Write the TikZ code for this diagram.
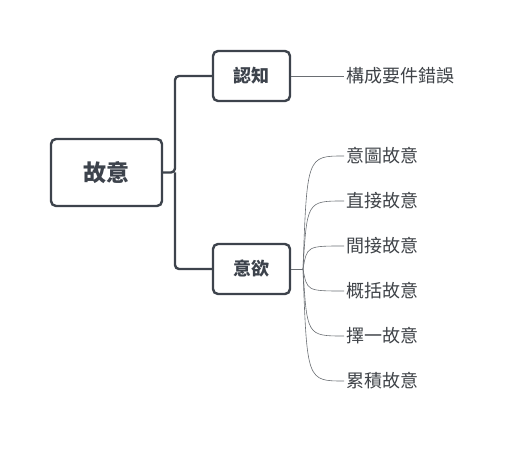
\documentclass[tikz,border=0pt]{standalone}
\usepackage{fontspec}
\setmainfont{Noto Sans CJK TC}
\usetikzlibrary{calc}
\definecolor{boxline}{HTML}{3D434C}
\definecolor{leafline}{HTML}{6A6E73}
\definecolor{leaftext}{HTML}{3F4348}
\tikzset{
  topicbox/.style={draw=boxline, line width=2.4pt, rounded corners=5pt, align=center, text=boxline, font=\bfseries\fontsize{18}{21}\selectfont},
  rootbox/.style={topicbox, font=\bfseries\fontsize{23}{27}\selectfont},
  leaf/.style={anchor=west, inner sep=2pt, text=leaftext, font=\fontsize{18}{21}\selectfont},
  branch/.style={draw=boxline, line width=2.4pt, rounded corners=4pt},
  twig/.style={draw=leafline, line width=0.6pt}
}
\begin{document}
\begin{tikzpicture}[x=1pt, y=-1pt]
\useasboundingbox (0,0) rectangle (512,449);
\node[rootbox, minimum width=111pt, minimum height=67pt] (root) at (106.5,172.5) {故意};
\node[topicbox, minimum width=77pt, minimum height=50pt] (know) at (251.5,76) {認知};
\node[topicbox, minimum width=77pt, minimum height=50pt] (will) at (251.5,269) {意欲};
\coordinate (fork) at (175,172.5);
\draw[branch] (root.east) -- (fork) |- (know.west);
\draw[branch] (fork) |- (will.west);
% 認知
\node[leaf] (err) at (344,76) {構成要件錯誤};
\draw[twig] (know.east) -- (err.west);
% 意欲
\node[leaf] (k1) at (344,156) {意圖故意};
\node[leaf] (k2) at (344,201) {直接故意};
\node[leaf] (k3) at (344,246) {間接故意};
\node[leaf] (k4) at (344,291) {概括故意};
\node[leaf] (k5) at (344,336) {擇一故意};
\node[leaf] (k6) at (344,381) {累積故意};
\coordinate (hub) at (303,269);
\draw[twig] (will.east) -- (hub);
\foreach \k in {k1,k2,k3,k4,k5,k6}
  \draw[twig] (hub) .. controls ($(hub |- \k.west)+(4,0)$) .. (\k.west);
\end{tikzpicture}
\end{document}
